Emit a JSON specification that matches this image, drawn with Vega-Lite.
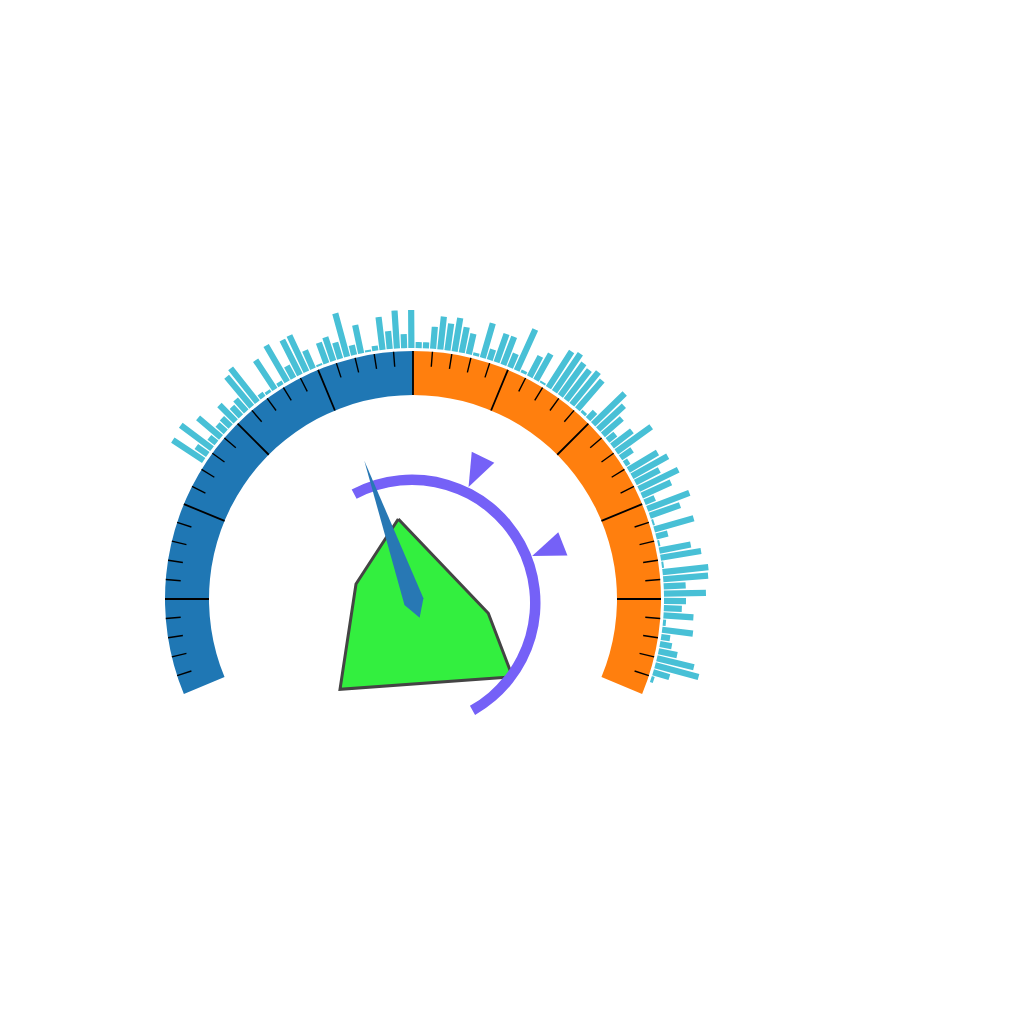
{
  "$schema": "https://vega.github.io/schema/vega-lite/v6.json",
  "description": "Gauge: two-colour axis band with ticks, radial bars outside, progress ring with markers, polygon and pointer",
  "width": 1024,
  "height": 1024,
  "padding": 0,
  "autosize": {"type": "fit", "contains": "padding"},
  "config": {"view": {"stroke": null}},
  "datasets": {
    "axisline": [
      {"seg": "low", "from": 0, "to": 50},
      {"seg": "high", "from": 50, "to": 100}
    ],
    "ticks": [
      {"v": 2, "kind": "minor"}, {"v": 4, "kind": "minor"}, {"v": 6, "kind": "minor"}, {"v": 8, "kind": "minor"},
      {"v": 10, "kind": "major"},
      {"v": 12, "kind": "minor"}, {"v": 14, "kind": "minor"}, {"v": 16, "kind": "minor"}, {"v": 18, "kind": "minor"},
      {"v": 20, "kind": "major"},
      {"v": 22, "kind": "minor"}, {"v": 24, "kind": "minor"}, {"v": 26, "kind": "minor"}, {"v": 28, "kind": "minor"},
      {"v": 30, "kind": "major"},
      {"v": 32, "kind": "minor"}, {"v": 34, "kind": "minor"}, {"v": 36, "kind": "minor"}, {"v": 38, "kind": "minor"},
      {"v": 40, "kind": "major"},
      {"v": 42, "kind": "minor"}, {"v": 44, "kind": "minor"}, {"v": 46, "kind": "minor"}, {"v": 48, "kind": "minor"},
      {"v": 50, "kind": "major"},
      {"v": 52, "kind": "minor"}, {"v": 54, "kind": "minor"}, {"v": 56, "kind": "minor"}, {"v": 58, "kind": "minor"},
      {"v": 60, "kind": "major"},
      {"v": 62, "kind": "minor"}, {"v": 64, "kind": "minor"}, {"v": 66, "kind": "minor"}, {"v": 68, "kind": "minor"},
      {"v": 70, "kind": "major"},
      {"v": 72, "kind": "minor"}, {"v": 74, "kind": "minor"}, {"v": 76, "kind": "minor"}, {"v": 78, "kind": "minor"},
      {"v": 80, "kind": "major"},
      {"v": 82, "kind": "minor"}, {"v": 84, "kind": "minor"}, {"v": 86, "kind": "minor"}, {"v": 88, "kind": "minor"},
      {"v": 90, "kind": "major"},
      {"v": 92, "kind": "minor"}, {"v": 94, "kind": "minor"}, {"v": 96, "kind": "minor"}, {"v": 98, "kind": "minor"}
    ],
    "bars": [
      {"k": 0, "v": 37}, {"k": 1, "v": 14}, {"k": 2, "v": 39}, {"k": 3, "v": 9}, {"k": 4, "v": 30},
      {"k": 5, "v": 11}, {"k": 6, "v": 12}, {"k": 7, "v": 23}, {"k": 8, "v": 13}, {"k": 9, "v": 16},
      {"k": 10, "v": 39}, {"k": 11, "v": 43}, {"k": 12, "v": 5}, {"k": 13, "v": 3}, {"k": 14, "v": 35},
      {"k": 15, "v": 4}, {"k": 16, "v": 42}, {"k": 17, "v": 14}, {"k": 18, "v": 39}, {"k": 19, "v": 40},
      {"k": 20, "v": 20}, {"k": 21, "v": 2}, {"k": 22, "v": 22}, {"k": 23, "v": 25}, {"k": 24, "v": 17},
      {"k": 25, "v": 45}, {"k": 26, "v": 10}, {"k": 27, "v": 29}, {"k": 28, "v": 2}, {"k": 29, "v": 5},
      {"k": 30, "v": 33}, {"k": 31, "v": 18}, {"k": 32, "v": 38}, {"k": 33, "v": 14}, {"k": 34, "v": 38},
      {"k": 35, "v": 6}, {"k": 36, "v": 6}, {"k": 37, "v": 22}, {"k": 38, "v": 33}, {"k": 39, "v": 27},
      {"k": 40, "v": 34}, {"k": 41, "v": 26}, {"k": 42, "v": 21}, {"k": 43, "v": 3}, {"k": 44, "v": 36},
      {"k": 45, "v": 11}, {"k": 46, "v": 30}, {"k": 47, "v": 30}, {"k": 48, "v": 15}, {"k": 49, "v": 45},
      {"k": 50, "v": 3}, {"k": 51, "v": 23}, {"k": 52, "v": 30}, {"k": 53, "v": 2}, {"k": 54, "v": 43},
      {"k": 55, "v": 46}, {"k": 56, "v": 40}, {"k": 57, "v": 38}, {"k": 58, "v": 42}, {"k": 59, "v": 38},
      {"k": 60, "v": 3}, {"k": 61, "v": 10}, {"k": 62, "v": 44}, {"k": 63, "v": 35}, {"k": 64, "v": 25},
      {"k": 65, "v": 10}, {"k": 66, "v": 25}, {"k": 67, "v": 43}, {"k": 68, "v": 14}, {"k": 69, "v": 5},
      {"k": 70, "v": 34}, {"k": 71, "v": 41}, {"k": 72, "v": 27}, {"k": 73, "v": 44}, {"k": 74, "v": 32},
      {"k": 75, "v": 11}, {"k": 76, "v": 45}, {"k": 77, "v": 32}, {"k": 78, "v": 2}, {"k": 79, "v": 41},
      {"k": 80, "v": 12}, {"k": 81, "v": 2}, {"k": 82, "v": 32}, {"k": 83, "v": 41}, {"k": 84, "v": 2},
      {"k": 85, "v": 46}, {"k": 86, "v": 45}, {"k": 87, "v": 22}, {"k": 88, "v": 42}, {"k": 89, "v": 22},
      {"k": 90, "v": 18}, {"k": 91, "v": 30}, {"k": 92, "v": 3}, {"k": 93, "v": 31}, {"k": 94, "v": 9},
      {"k": 95, "v": 12}, {"k": 96, "v": 19}, {"k": 97, "v": 38}, {"k": 98, "v": 45}, {"k": 99, "v": 17},
      {"k": 100, "v": 3}
    ],
    "progress": [{"from": -28, "to": 150.6}],
    "markers": [
      {"x": 62.8, "y": 126.8, "a": 26},
      {"x": 134.5, "y": 49.1, "a": 68.6}
    ],
    "shape": [
      {"i": 0, "x": -14.7, "y": 80},
      {"i": 1, "x": 75.3, "y": -14.3},
      {"i": 2, "x": 99.5, "y": -77.7},
      {"i": 3, "x": -73, "y": -90.3},
      {"i": 4, "x": -57, "y": 15},
      {"i": 5, "x": -14.7, "y": 80}
    ],
    "pointer": [{"x": 0, "y": 0, "a": -19.4}]
  },
  "resolve": {"scale": {"theta": "independent", "radius": "independent", "color": "independent"}},
  "layer": [
    {
      "data": {"name": "axisline"},
      "mark": {"type": "arc", "radius": 248, "radius2": 204},
      "encoding": {
        "x": {"datum": 0, "type": "quantitative", "scale": {"domain": [-413, 611], "nice": false, "zero": false}, "axis": null},
        "y": {"datum": 0, "type": "quantitative", "scale": {"domain": [-425, 599], "nice": false, "zero": false}, "axis": null},
        "theta": {"field": "from", "type": "quantitative", "stack": null, "scale": {"domain": [0, 100], "range": [-1.963495, 1.963495]}},
        "theta2": {"field": "to"},
        "color": {"field": "seg", "type": "nominal", "scale": {"domain": ["low", "high"], "range": ["#1f77b4", "#ff7f0e"]}, "legend": null}
      }
    },
    {
      "data": {"name": "ticks"},
      "transform": [{"filter": "datum.kind == 'minor'"}],
      "mark": {"type": "arc", "radius": 248, "radius2": 233, "color": "black", "stroke": "black", "strokeWidth": 1.4},
      "encoding": {
        "x": {"datum": 0, "type": "quantitative", "axis": null},
        "y": {"datum": 0, "type": "quantitative", "axis": null},
        "theta": {"field": "v", "type": "quantitative", "stack": null, "scale": {"domain": [0, 100], "range": [-1.963495, 1.963495]}},
        "theta2": {"field": "v"}
      }
    },
    {
      "data": {"name": "ticks"},
      "transform": [{"filter": "datum.kind == 'major'"}],
      "mark": {"type": "arc", "radius": 248, "radius2": 204, "color": "black", "stroke": "black", "strokeWidth": 1.8},
      "encoding": {
        "x": {"datum": 0, "type": "quantitative", "axis": null},
        "y": {"datum": 0, "type": "quantitative", "axis": null},
        "theta": {"field": "v", "type": "quantitative", "stack": null, "scale": {"domain": [0, 100], "range": [-1.963495, 1.963495]}},
        "theta2": {"field": "v"}
      }
    },
    {
      "data": {"name": "bars"},
      "mark": {"type": "arc", "radius2": 251, "color": "#48c0d6", "stroke": "#48c0d6", "strokeWidth": 6.2, "strokeCap": "butt", "strokeJoin": "bevel"},
      "encoding": {
        "x": {"datum": 0, "type": "quantitative", "axis": null},
        "y": {"datum": 0, "type": "quantitative", "axis": null},
        "theta": {"field": "k", "type": "quantitative", "stack": null, "scale": {"domain": [0, 100], "range": [-0.986111, 1.895428]}},
        "theta2": {"field": "k"},
        "radius": {"field": "v", "type": "quantitative", "scale": {"type": "linear", "domain": [0, 50], "range": [251, 301], "zero": false}}
      }
    },
    {
      "data": {"name": "shape"},
      "mark": {"type": "line", "fill": "#33ef3f", "stroke": "#444444", "strokeWidth": 3, "strokeJoin": "miter"},
      "encoding": {
        "x": {"field": "x", "type": "quantitative", "axis": null},
        "y": {"field": "y", "type": "quantitative", "axis": null},
        "order": {"field": "i"}
      }
    },
    {
      "data": {"name": "progress"},
      "mark": {"type": "arc", "radius": 128.5, "radius2": 118, "color": "#7561f7"},
      "encoding": {
        "x": {"datum": -1, "type": "quantitative", "axis": null},
        "y": {"datum": -4, "type": "quantitative", "axis": null},
        "theta": {"field": "from", "type": "quantitative", "stack": null, "scale": {"domain": [-180, 180], "range": [-3.141593, 3.141593]}},
        "theta2": {"field": "to"}
      }
    },
    {
      "data": {"name": "markers"},
      "mark": {"type": "point", "shape": "M-0.38,-0.5L0.38,-0.5L0,0.5Z", "filled": true, "color": "#7561f7", "opacity": 1, "size": 4356, "strokeWidth": 0},
      "encoding": {
        "x": {"field": "x", "type": "quantitative", "axis": null},
        "y": {"field": "y", "type": "quantitative", "axis": null},
        "angle": {"field": "a", "type": "quantitative", "scale": null}
      }
    },
    {
      "data": {"name": "pointer"},
      "mark": {"type": "point", "shape": "M0,-0.977L0.067,0.019L0,0.133L-0.067,0.019Z", "filled": true, "color": "#2878b4", "opacity": 1, "size": 90000, "strokeWidth": 0},
      "encoding": {
        "x": {"field": "x", "type": "quantitative", "axis": null},
        "y": {"field": "y", "type": "quantitative", "axis": null},
        "angle": {"field": "a", "type": "quantitative", "scale": null}
      }
    }
  ]
}
